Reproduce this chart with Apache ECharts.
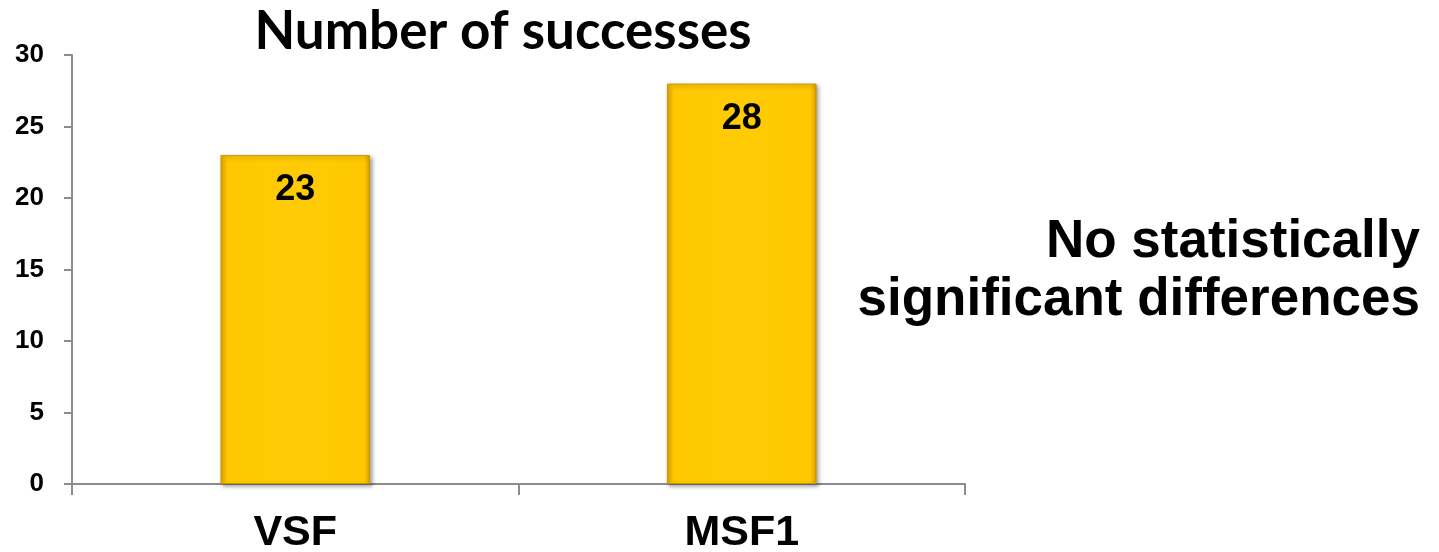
<!DOCTYPE html>
<html>
<head>
<meta charset="utf-8">
<script src="https://cdn.jsdelivr.net/npm/echarts@6/dist/echarts.min.js"></script>
<style>
  html, body { margin: 0; padding: 0; background: #fff; }
  #chart { width: 1439px; height: 552px; }
</style>
</head>
<body>
<div id="chart"></div>
<script>
// Groups compared and their success counts
const categories = ['VSF', 'MSF1'];
const successes = [23, 28];
const yTicks = { min: 0, max: 30, interval: 5 };
const titleText = 'Number of successes';
const noteLines = ['No statistically', 'significant differences'];

const axisGray = '#8c8c8c';

// Gold bar fill with slightly darker edges for a bevelled look
const barFill = new echarts.graphic.LinearGradient(0, 0, 1, 0, [
  { offset: 0, color: '#E3A900' },
  { offset: 0.04, color: '#FFC800' },
  { offset: 0.5, color: '#FFCB05' },
  { offset: 0.96, color: '#FFC800' },
  { offset: 1, color: '#D9A000' }
]);

const chart = echarts.init(document.getElementById('chart'), null, { renderer: 'canvas' });

chart.setOption({
  animation: false,
  backgroundColor: '#ffffff',
  title: {
    text: titleText,
    left: 498,
    textAlign: 'center',
    top: 0,
    textStyle: {
      fontFamily: 'Lato',
      fontWeight: 'bold',
      fontSize: 53,
      color: '#000'
    }
  },
  grid: { left: 72, right: 474, top: 55, bottom: 68, outerBoundsMode: 'none', containLabel: false },
  xAxis: {
    type: 'category',
    data: categories,
    boundaryGap: true,
    axisLine: { lineStyle: { color: axisGray, width: 2 } },
    axisTick: { show: true, length: 11, lineStyle: { color: axisGray, width: 2 } },
    axisLabel: {
      margin: 28,
      fontFamily: 'Liberation Sans',
      fontWeight: 'bold',
      fontSize: 43,
      color: '#000'
    }
  },
  yAxis: {
    type: 'value',
    min: yTicks.min,
    max: yTicks.max,
    interval: yTicks.interval,
    splitLine: { show: false },
    axisLine: { show: true, lineStyle: { color: axisGray, width: 2 } },
    axisTick: { show: true, length: 8, lineStyle: { color: axisGray, width: 2 } },
    axisLabel: {
      margin: 28,
      fontFamily: 'Liberation Sans',
      fontWeight: 'bold',
      fontSize: 26,
      color: '#000'
    }
  },
  series: [{
    type: 'bar',
    data: successes,
    barWidth: '33.5%',
    itemStyle: {
      color: barFill,
      borderColor: '#C99600',
      borderWidth: 1,
      shadowColor: 'rgba(0,0,0,0.35)',
      shadowBlur: 4,
      shadowOffsetX: 2,
      shadowOffsetY: 2
    },
    label: {
      show: true,
      position: 'insideTop',
      distance: 17,
      fontFamily: 'Liberation Sans',
      fontWeight: 'bold',
      fontSize: 36,
      color: '#000'
    }
  }],
  graphic: [{
    type: 'text',
    x: 1420,
    y: 213,
    style: {
      text: noteLines.join('\n'),
      align: 'right',
      verticalAlign: 'top',
      fontFamily: 'Liberation Sans',
      fontWeight: 'bold',
      fontSize: 53,
      lineHeight: 58,
      fill: '#000'
    }
  }]
});
</script>
</body>
</html>
